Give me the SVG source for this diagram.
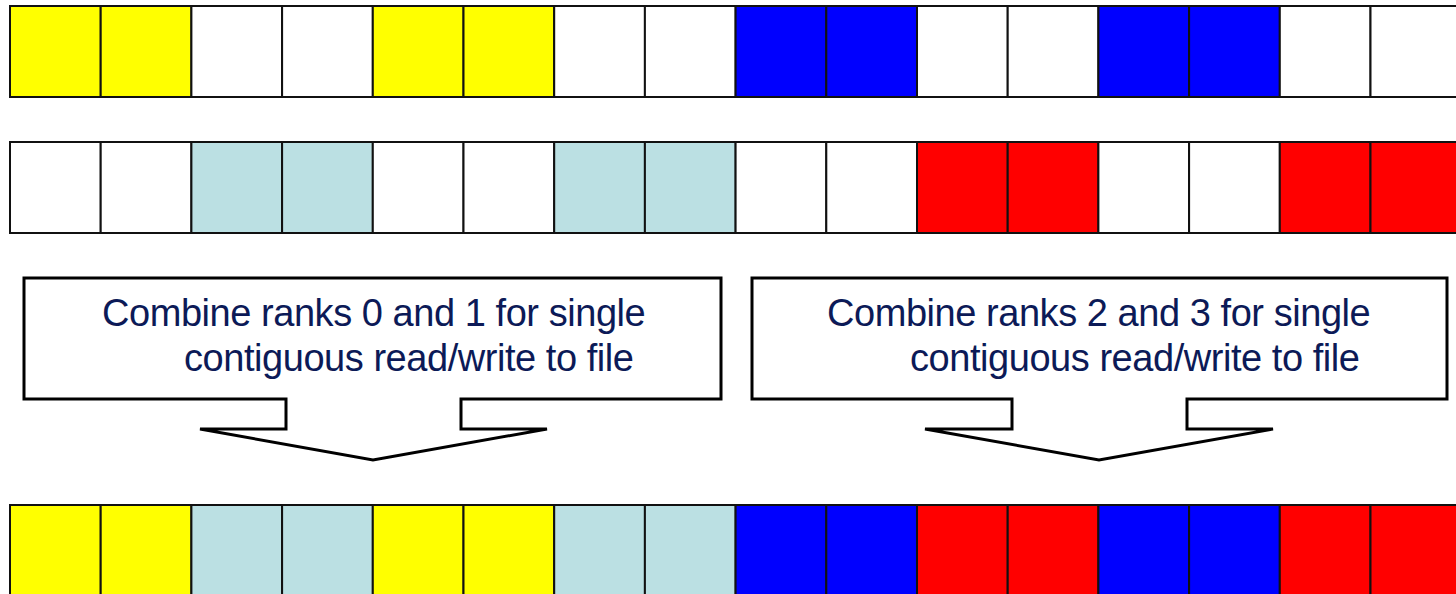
<svg xmlns="http://www.w3.org/2000/svg" width="1456" height="594" viewBox="0 0 1456 594">
<style>
rect.c{stroke:#111;stroke-width:2}
.y{fill:#FFFF00}.w{fill:#FFFFFF}.b{fill:#0000FF}.t{fill:#BBE0E3}.r{fill:#FF0000}
.callout{fill:#FFFFFF;stroke:#000;stroke-width:3;stroke-linejoin:miter}
.lbl{font-family:"Liberation Sans",Arial,sans-serif;font-size:38px;letter-spacing:-0.45px;fill:#0c1a57}
</style>
<rect width="1456" height="594" fill="#FFFFFF"/>
<g id="row1">
<rect class="c y" x="10" y="6" width="90.7" height="91"/>
<rect class="c y" x="100.7" y="6" width="90.7" height="91"/>
<rect class="c w" x="191.4" y="6" width="90.7" height="91"/>
<rect class="c w" x="282.1" y="6" width="90.7" height="91"/>
<rect class="c y" x="372.8" y="6" width="90.7" height="91"/>
<rect class="c y" x="463.5" y="6" width="90.7" height="91"/>
<rect class="c w" x="554.2" y="6" width="90.7" height="91"/>
<rect class="c w" x="644.9" y="6" width="90.7" height="91"/>
<rect class="c b" x="735.6" y="6" width="90.7" height="91"/>
<rect class="c b" x="826.3" y="6" width="90.7" height="91"/>
<rect class="c w" x="917" y="6" width="90.7" height="91"/>
<rect class="c w" x="1007.7" y="6" width="90.7" height="91"/>
<rect class="c b" x="1098.4" y="6" width="90.7" height="91"/>
<rect class="c b" x="1189.1" y="6" width="90.7" height="91"/>
<rect class="c w" x="1279.8" y="6" width="90.7" height="91"/>
<rect class="c w" x="1370.5" y="6" width="90.7" height="91"/>
</g>
<g id="row2">
<rect class="c w" x="10" y="142" width="90.7" height="91"/>
<rect class="c w" x="100.7" y="142" width="90.7" height="91"/>
<rect class="c t" x="191.4" y="142" width="90.7" height="91"/>
<rect class="c t" x="282.1" y="142" width="90.7" height="91"/>
<rect class="c w" x="372.8" y="142" width="90.7" height="91"/>
<rect class="c w" x="463.5" y="142" width="90.7" height="91"/>
<rect class="c t" x="554.2" y="142" width="90.7" height="91"/>
<rect class="c t" x="644.9" y="142" width="90.7" height="91"/>
<rect class="c w" x="735.6" y="142" width="90.7" height="91"/>
<rect class="c w" x="826.3" y="142" width="90.7" height="91"/>
<rect class="c r" x="917" y="142" width="90.7" height="91"/>
<rect class="c r" x="1007.7" y="142" width="90.7" height="91"/>
<rect class="c w" x="1098.4" y="142" width="90.7" height="91"/>
<rect class="c w" x="1189.1" y="142" width="90.7" height="91"/>
<rect class="c r" x="1279.8" y="142" width="90.7" height="91"/>
<rect class="c r" x="1370.5" y="142" width="90.7" height="91"/>
</g>
<g id="row3">
<rect class="c y" x="10" y="505" width="90.7" height="91"/>
<rect class="c y" x="100.7" y="505" width="90.7" height="91"/>
<rect class="c t" x="191.4" y="505" width="90.7" height="91"/>
<rect class="c t" x="282.1" y="505" width="90.7" height="91"/>
<rect class="c y" x="372.8" y="505" width="90.7" height="91"/>
<rect class="c y" x="463.5" y="505" width="90.7" height="91"/>
<rect class="c t" x="554.2" y="505" width="90.7" height="91"/>
<rect class="c t" x="644.9" y="505" width="90.7" height="91"/>
<rect class="c b" x="735.6" y="505" width="90.7" height="91"/>
<rect class="c b" x="826.3" y="505" width="90.7" height="91"/>
<rect class="c r" x="917" y="505" width="90.7" height="91"/>
<rect class="c r" x="1007.7" y="505" width="90.7" height="91"/>
<rect class="c b" x="1098.4" y="505" width="90.7" height="91"/>
<rect class="c b" x="1189.1" y="505" width="90.7" height="91"/>
<rect class="c r" x="1279.8" y="505" width="90.7" height="91"/>
<rect class="c r" x="1370.5" y="505" width="90.7" height="91"/>
</g>
<g id="callout-left">
<path class="callout" d="M24,278 H721 V399 H461 V429 H547 L373,460 L200,429 H286 V399 H24 Z"/>
<text class="lbl" x="102" y="326">Combine ranks 0 and 1 for single</text>
<text class="lbl" x="184" y="371">contiguous read/write to file</text>
</g>
<g id="callout-right">
<path class="callout" d="M752,278 H1447 V399 H1187 V429 H1273 L1099,460 L925,429 H1012 V399 H752 Z"/>
<text class="lbl" x="827" y="326">Combine ranks 2 and 3 for single</text>
<text class="lbl" x="910" y="371">contiguous read/write to file</text>
</g>
<g id="connectors"/>
</svg>
